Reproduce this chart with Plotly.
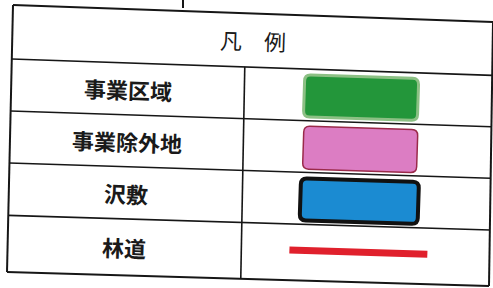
import math
import plotly.graph_objects as go

# ---- content ----
header_text = "凡　例"
labels = ["事業区域", "事業除外地", "沢敷", "林道"]
symbol_kinds = ["box", "box", "box", "line"]
fill_colors = ["#23963a", "#dc7dc3", "#1b8bd2", "#e0202c"]
edge_colors = ["#8cc084", "#9a2a4a", "#111111", "#e0202c"]
edge_widths = [3, 1.5, 4, 7]
symbol_sizes = [(114, 42), (114, 43), (118, 42), (138, 0)]

W, H = 493, 288
# scanned table corners (slightly rotated): TL, TR, BL, BR
TL, TR, BL, BR = (13, 5), (493, 22), (7, 272), (489, 286)
row_v = [0.0, 0.202, 0.397, 0.592, 0.788, 1.0]
div_u = 0.485
ang = math.radians(1.85)


def P(u, v):
    x = (1 - u) * (1 - v) * TL[0] + u * (1 - v) * TR[0] + (1 - u) * v * BL[0] + u * v * BR[0]
    y = (1 - u) * (1 - v) * TL[1] + u * (1 - v) * TR[1] + (1 - u) * v * BL[1] + u * v * BR[1]
    return x, y


def rot(cx, cy, x, y):
    c, s = math.cos(ang), math.sin(ang)
    return cx + x * c - y * s, cy + x * s + y * c


def rrect(cx, cy, w, h, r):
    a, b = w / 2, h / 2
    pts = [
        ("M", [(-a + r, -b)]), ("L", [(a - r, -b)]), ("Q", [(a, -b), (a, -b + r)]),
        ("L", [(a, b - r)]), ("Q", [(a, b), (a - r, b)]), ("L", [(-a + r, b)]),
        ("Q", [(-a, b), (-a, b - r)]), ("L", [(-a, -b + r)]), ("Q", [(-a, -b), (-a + r, -b)]),
    ]
    out = []
    for cmd, ps in pts:
        coords = " ".join("%.2f,%.2f" % rot(cx, cy, x, y) for x, y in ps)
        out.append(cmd + " " + coords)
    return " ".join(out) + " Z"


fig = go.Figure()
fig.add_trace(go.Scatter(x=[0, W], y=[0, H], mode="markers", marker=dict(opacity=0),
                         hoverinfo="skip", showlegend=False))

shapes = []
line_col = "#161616"
# horizontal lines
for i, v in enumerate(row_v):
    x0, y0 = P(0, v)
    x1, y1 = P(1, v)
    shapes.append(dict(type="line", x0=x0, y0=y0, x1=x1, y1=y1,
                       line=dict(color=line_col, width=2 if i in (0, len(row_v) - 1) else 1.6)))
# vertical lines
for u in (0.0, 1.0):
    x0, y0 = P(u, 0)
    x1, y1 = P(u, 1)
    shapes.append(dict(type="line", x0=x0, y0=y0, x1=x1, y1=y1, line=dict(color=line_col, width=2)))
x0, y0 = P(div_u, row_v[1])
x1, y1 = P(div_u, 1)
shapes.append(dict(type="line", x0=x0, y0=y0, x1=x1, y1=y1, line=dict(color=line_col, width=1.6)))
# small scan mark above table
shapes.append(dict(type="line", x0=183, y0=0, x1=183, y1=8, line=dict(color=line_col, width=2)))

annotations = []
hx, hy = P(0.5, row_v[1] / 2)
annotations.append(dict(x=hx, y=hy, text=header_text, showarrow=False, textangle=math.degrees(ang),
                        font=dict(family="Noto Sans CJK JP", size=22, color="#1a1a1a"),
                        xanchor="center", yanchor="middle"))

for i, lab in enumerate(labels):
    vc = (row_v[i + 1] + row_v[i + 2]) / 2
    lx, ly = P(div_u / 2, vc)
    annotations.append(dict(x=lx, y=ly, text="<b>" + lab + "</b>", showarrow=False,
                            textangle=math.degrees(ang),
                            font=dict(family="Noto Sans CJK JP", size=22, color="#1a1a1a"),
                            xanchor="center", yanchor="middle"))
    sx, sy = P(0.728, vc)
    w, h = symbol_sizes[i]
    if symbol_kinds[i] == "box":
        shapes.append(dict(type="path", path=rrect(sx, sy + 1, w, h, 6),
                           fillcolor=fill_colors[i],
                           line=dict(color=edge_colors[i], width=edge_widths[i])))
    else:
        ax, ay = rot(sx, sy - 2, -w / 2, 0)
        bx, by = rot(sx, sy - 2, w / 2, 0)
        shapes.append(dict(type="line", x0=ax, y0=ay, x1=bx, y1=by,
                           line=dict(color=edge_colors[i], width=edge_widths[i])))

fig.update_layout(
    width=W, height=H, margin=dict(l=0, r=0, t=0, b=0),
    paper_bgcolor="white", plot_bgcolor="white",
    xaxis=dict(range=[0, W], visible=False, fixedrange=True),
    yaxis=dict(range=[H, 0], visible=False, fixedrange=True),
    shapes=shapes, annotations=annotations, showlegend=False,
)
fig.write_html("out.html", config={"displayModeBar": False},
               post_script="document.body.style.margin='0';document.body.style.overflow='hidden';")
